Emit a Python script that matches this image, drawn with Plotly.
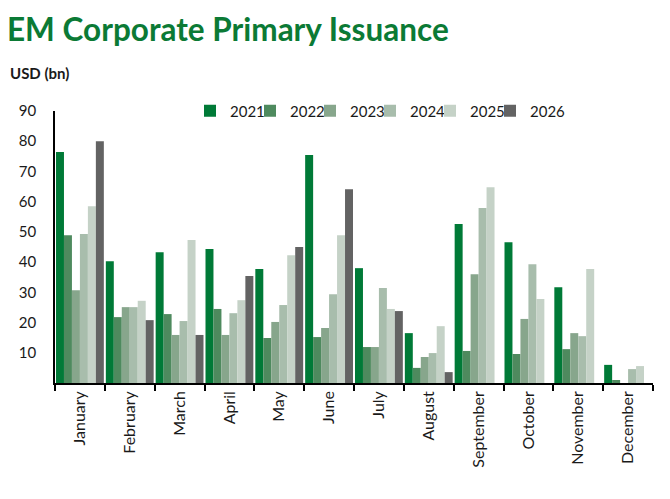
import plotly.graph_objects as go

# Monthly EM corporate primary issuance, USD bn
months = ['January', 'February', 'March', 'April', 'May', 'June',
          'July', 'August', 'September', 'October', 'November', 'December']

y2021 = [76.4, 40.3, 43.3, 44.3, 37.7, 75.4, 38.0, 16.5, 52.6, 46.6, 31.7, 6.0]
y2022 = [48.9, 21.8, 22.8, 24.5, 14.9, 15.2, 11.9, 5.0, 10.6, 9.6, 11.2, 1.0]
y2023 = [30.7, 25.1, 15.9, 15.9, 20.2, 18.2, 11.9, 8.6, 36.0, 21.2, 16.5, None]
y2024 = [49.3, 25.1, 20.5, 23.1, 25.8, 29.4, 31.4, 9.9, 57.9, 39.3, 15.5, 4.6]
y2025 = [58.5, 27.2, 47.3, 27.4, 42.3, 48.9, 24.5, 18.8, 64.8, 27.8, 37.7, 5.6]
y2026 = [80.0, 20.8, 15.9, 35.4, 45.0, 64.1, 23.8, 3.6, None, None, None, None]

series = [
    ('2021', y2021, '#007A37'),
    ('2022', y2022, '#4E8A5E'),
    ('2023', y2023, '#87A68C'),
    ('2024', y2024, '#A8BDAC'),
    ('2025', y2025, '#C5D2C7'),
    ('2026', y2026, '#636363'),
]

fig = go.Figure()
for name, vals, col in series:
    fig.add_trace(go.Bar(x=months, y=vals, name=name, marker_color=col,
                         marker_line_width=0))
# blank legend slot so the last label isn't clipped
fig.add_trace(go.Scatter(x=[None], y=[None], name=' ', mode='markers',
                         marker=dict(color='rgba(0,0,0,0)', size=1),
                         hoverinfo='skip'))

L, R, T, B = 55, 17, 111, 116
W, H = 670, 499
plot_w = W - L - R
plot_h = H - T - B


def px(x, y):
    # pixel position -> paper coords
    return (x - L) / plot_w, (H - y - B) / plot_h


tx, ty = px(5, 29)
ux, uy = px(8, 73)
lx, ly = px(190, 111)

fig.update_layout(
    width=W, height=H,
    plot_bgcolor='white', paper_bgcolor='white',
    font=dict(family='Lato, Noto Sans, sans-serif', size=15, color='#1a1a1a'),
    margin=dict(l=L, r=R, t=T, b=B),
    barmode='group', bargap=0.04, bargroupgap=0,
    legend=dict(orientation='h', x=lx, y=ly, xanchor='left', yanchor='middle',
                font=dict(size=15), bgcolor='rgba(0,0,0,0)',
                entrywidth=15, entrywidthmode='pixels', itemwidth=30),
    annotations=[
        dict(text='<b>EM Corporate Primary Issuance</b>', x=tx, y=ty,
             xref='paper', yref='paper', showarrow=False, xanchor='left',
             yanchor='middle', font=dict(size=31.5, color='#0B7A35')),
        dict(text='<b>USD (bn)</b>', x=ux, y=uy,
             xref='paper', yref='paper', showarrow=False, xanchor='left',
             yanchor='middle', font=dict(size=15, color='#1a1a1a')),
    ],
)

fig.update_xaxes(showline=True, linecolor='black', linewidth=1.5,
                 ticks='outside', tickson='boundaries', ticklen=6,
                 tickcolor='black', tickwidth=1.5, tickangle=-90,
                 tickfont=dict(size=16), showgrid=False)
fig.update_yaxes(range=[0, 90], tickvals=list(range(10, 100, 10)),
                 showline=True, linecolor='black', linewidth=1.5,
                 showgrid=False, zeroline=False, ticks='', ticklabelstandoff=14)

fig.write_html('out.html', config={'displayModeBar': False},
               post_script="document.body.style.margin='0';")
